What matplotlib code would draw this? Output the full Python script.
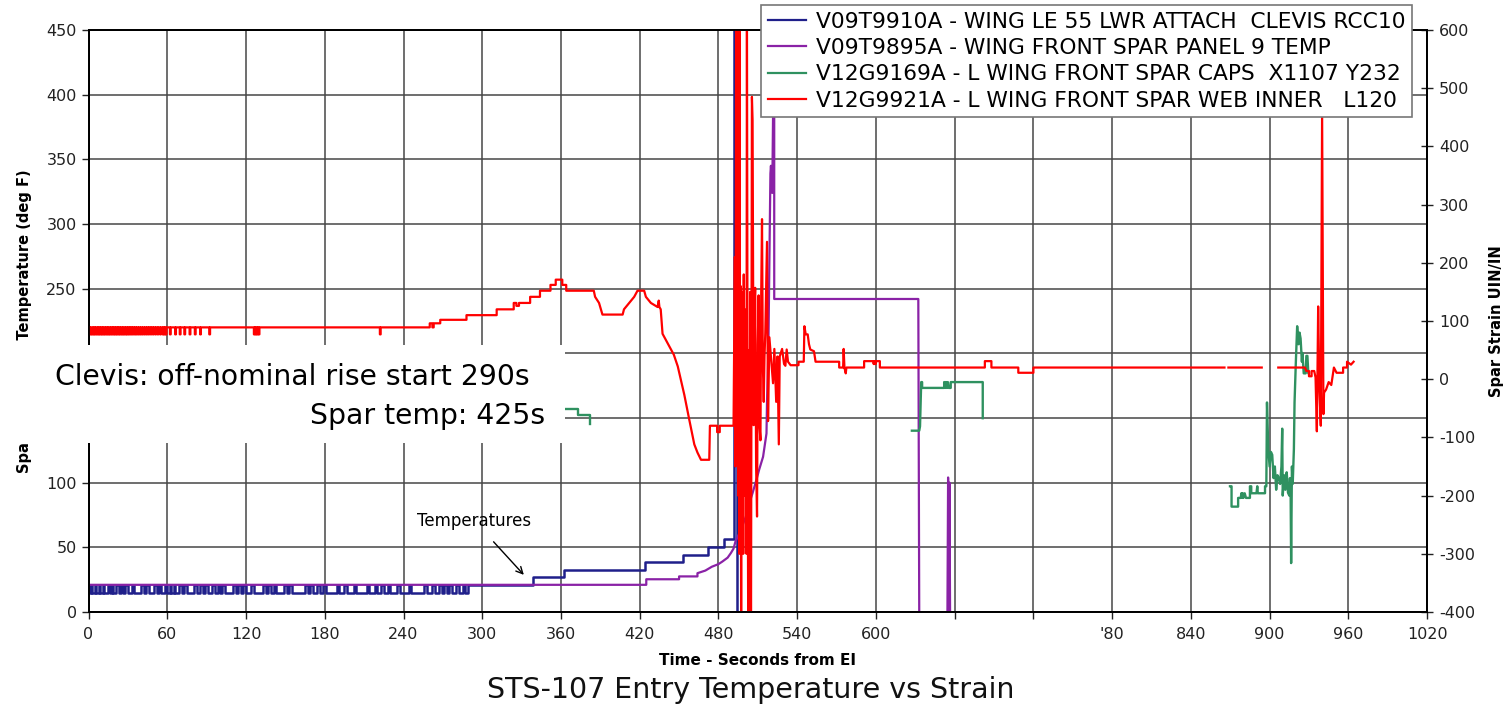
import matplotlib
matplotlib.use('Agg')
import matplotlib.pyplot as plt
from matplotlib.patches import Rectangle
from matplotlib.lines import Line2D

plt.rcParams['font.family'] = ['DejaVu Sans']
plt.rcParams['axes.unicode_minus'] = False

nan = float('nan')

# ---- values ----
x_ticks = list(range(0, 1021, 60))
x_tick_labels = ['0', '60', '120', '180', '240', '300', '360', '420', '480', '540',
                 '600', '', '', "'80", '840', '900', '960', '1020']
temp_ticks = list(range(0, 451, 50))
strain_ticks = list(range(-400, 601, 100))

labels = ['V09T9910A - WING LE 55 LWR ATTACH  CLEVIS RCC10',
          'V09T9895A - WING FRONT SPAR PANEL 9 TEMP',
          'V12G9169A - L WING FRONT SPAR CAPS  X1107 Y232',
          'V12G9921A - L WING FRONT SPAR WEB INNER   L120']
colors = ['#1f1f8a', '#8a22a6', '#2f9160', '#ff0000']

# clevis temp (deg F): flicker 21 -> 15 before 290 s, then steps
clevis_dips = [(0, 2), (3, 5), (6, 8), (9, 11), (12, 15), (16, 18), (19, 21), (23, 25),
               (26, 28), (30, 33), (35, 40), (42, 44), (46, 50), (52, 54), (55, 58),
               (60, 62), (63, 65), (66, 69), (71, 73), (75, 80), (83, 85), (87, 89),
               (91, 94), (96, 99), (100, 102), (104, 110), (112, 114), (116, 118),
               (120, 124), (126, 133), (135, 137), (139, 141), (143, 149), (151, 153),
               (155, 165), (167, 169), (171, 174), (176, 179), (181, 189), (191, 195),
               (197, 202), (204, 212), (214, 218), (220, 223), (225, 228), (230, 235),
               (237, 244), (246, 256), (258, 262), (264, 267), (269, 271), (273, 275),
               (277, 280), (282, 285), (287, 289)]
clevis_tail = [(290, 21), (339, 21), (339, 27), (362, 27), (362, 32.5), (424, 32.5),
               (424, 38.8), (453, 38.8), (453, 44.3), (472, 44.3), (472, 50), (484, 50),
               (484, 56.5), (492, 56.5), (492, 480), (494.5, 480), (494.5, -20)]

# spar temp (deg F)
spar_temp = [(0, 21), (425, 21), (425, 25.3), (450, 25.3), (450, 27.5), (464, 27.5),
             (464, 30), (470, 32), (475, 35), (480, 37), (483, 39), (487, 42),
             (489.5, 45.6), (491.5, 49), (493, 54.6), (495.5, 60), (498, 66), (501, 74),
             (503.5, 84), (506, 92), (508.6, 101), (511, 110), (514, 120), (516.6, 138),
             (517, 162), (518, 200), (519.6, 339), (520, 345), (521, 324), (521.6, 383),
             (522, 470), (522.5, 470), (522.5, 242), (632.3, 242), (633, 0), (633.5, nan),
             (654.5, 0), (655, 104), (655.5, 0), (656, 100), (656.5, 0)]

# spar caps strain (uin/in), visible pieces only
caps_a = [(363, -52), (372.6, -52), (372.6, -62), (382, -62), (382, -76.5)]
caps_b = [(627.4, -88.5), (633, -88.5), (633.6, -81), (634.5, -5), (635.2, -5),
          (635.2, -15), (652, -15), (652, -5), (652.7, -15), (653.4, -5), (654.1, -15),
          (654.8, -5), (655.5, -15), (657, -15), (657, -5), (681.4, -5), (681.4, -67)]
caps_c = [(869.8, -184), (871, -184), (871, -219), (876, -219), (876, -204), (878, -204),
          (878.5, -196), (879, -204), (879.5, -196), (880, -204), (881, -196), (882, -204),
          (885, -204), (885, -184), (886, -184), (886, -196), (890, -196), (890.6, -184),
          (891, -196), (896.5, -196), (896.5, -184), (897.5, -184), (898, -40), (899, -121),
          (900, -150), (901, -125), (902, -130), (903, -170), (904, -150), (905, -190),
          (906, -165), (907, -170), (908, -180), (909, -150), (909.6, -85), (910, -200),
          (911, -165), (912, -190), (913, -160), (913.5, -175), (914, -195), (915, -200),
          (915.5, -170), (916, -190), (916.4, -316), (917, -150), (917.6, -180),
          (918.5, -120), (919, -40), (920, 30), (921, 91), (922, 60), (922.8, 80),
          (923.6, 70), (924.6, 30), (925, 45), (926, 10), (927.5, 10), (928, 40),
          (928.8, 40), (929.5, 10), (930, 10)]

# spar web strain (uin/in): flicker 89 -> 77 early on
web_dips = [(0, 0.6), (1.2, 1.8), (2.4, 3.2), (3.8, 4.4), (5, 5.6), (6.3, 7), (7.6, 8.2),
            (8.8, 9.5), (10.1, 10.7), (11.3, 12), (12.6, 13.2), (13.9, 14.5), (15.1, 15.8),
            (16.4, 17), (17.7, 18.3), (19, 19.6), (20.2, 20.9), (21.5, 22.1), (22.8, 23.4),
            (24, 24.7), (25.4, 26), (26.6, 27.3), (28, 28.6), (29.2, 29.9), (30.6, 31.2),
            (32, 32.6), (33.4, 34), (34.9, 35.5), (36.3, 36.9), (37.8, 38.4), (39.3, 39.9),
            (40.8, 41.4), (42.4, 43), (44, 44.6), (45.6, 46.2), (47.3, 47.9), (49, 49.6),
            (50.8, 51.4), (52.6, 53.2), (54.5, 55.1), (56.4, 57), (57.6, 58.2), (58.8, 59.4),
            (62, 62.6), (66, 66.6), (69.5, 70.1), (73, 73.6), (77, 77.6), (81, 81.6),
            (85, 85.6), (92, 92.6), (126, 126.6), (127.2, 127.8), (128.4, 129),
            (129.6, 130.2), (222, 222.6)]
web_main = [(260, 89), (260, 96), (262, 96), (262, 89), (263, 89), (263, 96), (268, 96),
            (268, 102), (288, 102), (288, 110), (311, 110), (311, 120), (324, 120),
            (324, 131), (326, 131), (326, 126), (328, 126), (328, 131), (336.5, 131),
            (336.5, 141.5), (344, 141.5), (344, 152), (352, 152), (352, 162), (356, 162),
            (356, 171), (361, 171), (361, 162), (364, 162), (364, 152), (385, 152),
            (386, 141.5), (389, 131), (391.6, 111), (407, 111), (408, 120), (412, 131),
            (415.8, 141.5), (418.3, 152), (423.4, 152), (424.7, 141.5), (428.5, 131),
            (433.6, 124), (434.5, 135), (435, 124), (436, 120), (437.4, 78), (442.4, 57),
            (446, 42), (449, 22), (454, -27), (457.8, -70), (461.6, -112), (464, -126),
            (466.7, -138.5), (473, -138.5), (473.5, -80), (479, -80), (479, -91),
            (481, -91), (481, -80), (491.5, -80)]
web_burst = [(492.5, 210), (493, -150), (493.5, 650), (494.2, 0), (494.6, 650), (495, -200),
             (495.4, 190), (495.8, -300), (496.1, 650), (496.5, -120), (496.9, 160),
             (497.3, -450), (497.7, 150), (498.1, -250), (498.5, 80), (498.9, -300),
             (499.3, 180), (499.7, -200), (500.1, 120), (500.5, -100), (500.9, 60),
             (501.3, -300), (501.7, 650), (502.2, -50), (502.7, -450), (503.1, 50),
             (503.6, -450), (504.2, 150), (504.8, -450), (505.5, 485), (506, 445),
             (506.8, -79), (507.4, 120), (508, 157), (508.7, -150), (509.4, -236),
             (510, 60), (510.6, 144), (511.3, -80), (512, -105), (512.6, 150),
             (513.2, 275), (513.8, 30), (514.5, -39), (515.1, 40), (515.7, 79),
             (516.3, 150), (517, 236), (517.8, -72), (518.8, 72), (520, 39), (521.6, -7),
             (522.6, 52), (524, -39), (525, 39), (526, -112), (526.7, 39), (528.5, 52),
             (530, 26)]
web_after = [(531, 23), (532, 51), (533, 30), (535, 24), (541, 24), (541, 30), (545, 30),
             (545.5, 91), (546.5, 77), (548, 77), (549, 60), (550, 51), (552.8, 48),
             (554, 30), (572, 30), (572, 20), (575, 20), (575.4, 52), (576, 20), (577, 10),
             (577.5, 20), (591, 20), (591, 31), (598, 31), (598.3, 26), (598.6, 31),
             (599, 26), (599.4, 31), (599.8, 26), (600.2, 31), (603, 31), (603, 20),
             (683, 20), (683, 31), (688, 31), (688, 20), (708.5, 20), (708.5, 11),
             (720, 11), (720, 20), (865.6, 20), (865.6, nan), (868.6, 20), (894, 20),
             (894, nan), (906.6, 20), (927, 20), (928, 14), (930, 14), (930, 5), (932, 5),
             (932, 14), (934, 14), (935, 3), (936, -89.6), (937, 125), (938, -20),
             (939, -80), (940, 460), (940.5, 200), (941, -60), (941.5, -23), (943, -18),
             (945, -5), (947, -10), (949, 20), (951, 11), (956, 11), (956, 20), (959, 20),
             (959, 30), (962, 25), (964, 30)]


def dip_steps(dips, t_end, base, low):
    t, v = [0], [base]
    for a, b in dips:
        t += [a, a, b, b]
        v += [base, low, low, base]
    t.append(t_end)
    v.append(base)
    return t, v


def unzip(pairs):
    return [p[0] for p in pairs], [p[1] for p in pairs]


clevis_t, clevis_v = dip_steps(clevis_dips, 290, 21, 15)
t, v = unzip(clevis_tail)
clevis_t += t
clevis_v += v

web_t, web_v = dip_steps(web_dips, 260, 89, 77)
for seg in (web_main, web_burst, web_after):
    t, v = unzip(seg)
    web_t += t
    web_v += v

# ---- figure ----
fig = plt.figure(figsize=(15.06, 7.07), dpi=100)
ax1 = fig.add_axes([0.0588, 0.1344, 0.8888, 0.8232])
ax2 = ax1.twinx()

ax1.plot(clevis_t, clevis_v, color=colors[0], lw=1.8)
ax1.plot(*unzip(spar_temp), color=colors[1], lw=1.6)
for seg in (caps_a, caps_b, caps_c):
    ax2.plot(*unzip(seg), color=colors[2], lw=1.7)
ax2.plot(web_t, web_v, color=colors[3], lw=1.6)

ax1.set_xlim(0, 1020)
ax1.set_ylim(0, 450)
ax2.set_ylim(-400, 600)
ax1.set_xticks(x_ticks)
ax1.set_xticklabels(x_tick_labels)
ax1.set_yticks(temp_ticks)
ax2.set_yticks(strain_ticks)
ax1.grid(True, color='#474747', lw=1.1)
ax1.tick_params(axis='both', direction='out', length=5, width=1, colors='#222222')
ax1.tick_params(axis='x', labelsize=11.5, pad=6)
ax1.tick_params(axis='y', labelsize=11.5)
ax2.tick_params(axis='y', direction='inout', length=9, width=1, labelsize=11.5,
                colors='#222222', pad=4)
for ax in (ax1, ax2):
    for s in ax.spines.values():
        s.set_color('black')
        s.set_linewidth(1.3)

ax1.set_ylabel('Spar and Clevis Temperature (deg F)', fontsize=10.5, fontweight='bold',
               labelpad=10)
ax2.set_ylabel('Spar Strain UIN/IN', fontsize=10.5, fontweight='bold', labelpad=10)
ax1.set_xlabel('Time - Seconds from EI', fontsize=11, fontweight='bold', labelpad=8)
fig.text(0.4987, 0.024, 'STS-107 Entry Temperature vs Strain', fontsize=20.5,
         ha='center', va='center', color='#111111')

ax1.annotate('Temperatures', xy=(331.7, 28.7), xytext=(294, 70.5), fontsize=12,
             ha='center', va='center',
             arrowprops=dict(arrowstyle='->', color='black', lw=1,
                             shrinkA=9, shrinkB=0))

# white box pasted over the chart with the two notes
fig.patches.append(Rectangle((0, 1 - 443 / 707), 565 / 1506, 98 / 707,
                             transform=fig.transFigure, facecolor='white',
                             edgecolor='none', zorder=3))
fig.text(55 / 1506, 1 - 377 / 707, 'Clevis: off-nominal rise start 290s', fontsize=20.3,
         ha='left', va='center', zorder=4)
fig.text(545 / 1506, 1 - 416 / 707, 'Spar temp: 425s', fontsize=20.3,
         ha='right', va='center', zorder=4)

handles = [Line2D([], [], color=c, lw=1.6) for c in colors]
leg = fig.legend(handles, labels, loc='upper right', bbox_to_anchor=(1412 / 1506, 1 - 5 / 707),
                 bbox_transform=fig.transFigure, fontsize=15.7, frameon=True,
                 fancybox=False, framealpha=1, edgecolor='#777777', borderaxespad=0,
                 handlelength=1.75, labelspacing=0.29, borderpad=0.3, handletextpad=0.45)
leg.get_frame().set_linewidth(1.2)
leg.set_zorder(6)

fig.savefig('out.png', dpi=100, facecolor='white')
